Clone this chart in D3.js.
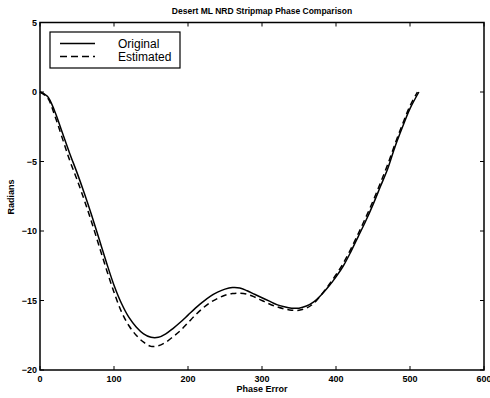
<!DOCTYPE html>
<html><head><meta charset="utf-8">
<script src="https://cdn.jsdelivr.net/npm/d3@7"></script>
<style>body{margin:0;background:#fff}svg{display:block}text{font-family:"Liberation Sans",Arial,sans-serif;fill:#000}</style>
</head><body><svg id="c" width="490" height="398"></svg>
<script>
const xValues = [0,10,20,30,40,50,60,70,80,90,100,110,120,130,140,150,160,170,180,190,200,210,220,230,240,250,260,270,280,290,300,310,320,330,340,350,360,370,380,390,400,410,420,430,440,450,460,470,480,490,500,512];
const originalValues = [0,-0.3,-1.4,-2.9,-4.4,-5.8,-7.3,-8.9,-10.6,-12.3,-13.9,-15.2,-16.2,-16.9,-17.4,-17.65,-17.65,-17.4,-17.0,-16.55,-16.05,-15.55,-15.1,-14.7,-14.4,-14.18,-14.07,-14.1,-14.3,-14.55,-14.8,-15.05,-15.3,-15.45,-15.55,-15.55,-15.4,-15.1,-14.6,-14.0,-13.3,-12.5,-11.5,-10.4,-9.3,-8.1,-6.8,-5.5,-3.9,-2.5,-1.2,0];
const estimatedX = [0,10,20,30,40,50,60,70,80,90,100,110,120,130,140,150,160,170,180,190,200,210,220,230,240,250,260,270,280,290,300,310,320,330,340,350,360,370,380,390,400,410,420,430,440,450,460,470,480,490,500,510];
const estimatedValues = [0,-0.4,-1.7,-3.3,-4.9,-6.3,-7.8,-9.4,-11.1,-12.8,-14.4,-15.8,-16.8,-17.5,-18.0,-18.3,-18.25,-18.0,-17.6,-17.15,-16.6,-16.05,-15.55,-15.15,-14.85,-14.62,-14.5,-14.47,-14.55,-14.75,-15.0,-15.25,-15.45,-15.6,-15.7,-15.7,-15.55,-15.2,-14.6,-13.9,-13.15,-12.3,-11.3,-10.2,-9.05,-7.85,-6.55,-5.2,-3.7,-2.3,-1.0,0];
const xTicks = [0,100,200,300,400,500,600];
const yTicks = [5,0,-5,-10,-15,-20];
const seriesNames = ["Original","Estimated"];
const titleText = "Desert ML NRD Stripmap Phase Comparison";
const xLabel = "Phase Error";
const yLabel = "Radians";

const svg = d3.select("#c");
const L=40,R=484,T=22.5,B=370;
const x = d3.scaleLinear().domain([0,600]).range([L,R]);
const y = d3.scaleLinear().domain([-20,5]).range([B,T]);

const tl=4;
const g = svg.append("g");
g.append("rect").attr("x",L).attr("y",T).attr("width",R-L).attr("height",B-T).attr("fill","none").attr("stroke","#000").attr("stroke-width",1.5);
xTicks.forEach(v=>{
  g.append("line").attr("x1",x(v)).attr("x2",x(v)).attr("y1",B).attr("y2",B-tl).attr("stroke","#000").attr("stroke-width",1);
  g.append("line").attr("x1",x(v)).attr("x2",x(v)).attr("y1",T).attr("y2",T+tl).attr("stroke","#000").attr("stroke-width",1);
  g.append("text").attr("x",x(v)).attr("y",B+12).attr("text-anchor","middle").attr("font-size",9).attr("font-weight","bold").text(v);
});
yTicks.forEach(v=>{
  g.append("line").attr("x1",L).attr("x2",L+tl).attr("y1",y(v)).attr("y2",y(v)).attr("stroke","#000").attr("stroke-width",1);
  g.append("line").attr("x1",R).attr("x2",R-tl).attr("y1",y(v)).attr("y2",y(v)).attr("stroke","#000").attr("stroke-width",1);
  g.append("text").attr("x",L-3).attr("y",y(v)+3).attr("text-anchor","end").attr("font-size",9).attr("font-weight","bold").text(v===0?"0":String(v).replace("-","\u2212"));
});

const line = d3.line().x(d=>x(d[0])).y(d=>y(d[1])).curve(d3.curveCatmullRom.alpha(0.5));
svg.append("path").datum(xValues.map((v,i)=>[v,originalValues[i]])).attr("d",line).attr("fill","none").attr("stroke","#000").attr("stroke-width",1.5);
svg.append("path").datum(estimatedX.map((v,i)=>[v,estimatedValues[i]])).attr("d",line).attr("fill","none").attr("stroke","#000").attr("stroke-width",1.5).attr("stroke-dasharray","6,4");

const lg = svg.append("g");
lg.append("rect").attr("x",50).attr("y",32).attr("width",130).attr("height",36).attr("fill","#fff").attr("stroke","#000").attr("stroke-width",1.2);
lg.append("line").attr("x1",60).attr("x2",95).attr("y1",43.5).attr("y2",43.5).attr("stroke","#000").attr("stroke-width",1.5);
lg.append("line").attr("x1",60).attr("x2",95).attr("y1",56.5).attr("y2",56.5).attr("stroke","#000").attr("stroke-width",1.5).attr("stroke-dasharray","7,4");
lg.append("text").attr("x",118).attr("y",47.5).attr("font-size",12).text(seriesNames[0]);
lg.append("text").attr("x",118).attr("y",61).attr("font-size",12).text(seriesNames[1]);

svg.append("text").attr("x",262).attr("y",14).attr("text-anchor","middle").attr("font-size",8.5).attr("font-weight","bold").text(titleText);
svg.append("text").attr("x",262).attr("y",392).attr("text-anchor","middle").attr("font-size",9).attr("font-weight","bold").text(xLabel);
svg.append("text").attr("transform","translate(14,197) rotate(-90)").attr("text-anchor","middle").attr("font-size",9).attr("font-weight","bold").text(yLabel);
</script></body></html>
